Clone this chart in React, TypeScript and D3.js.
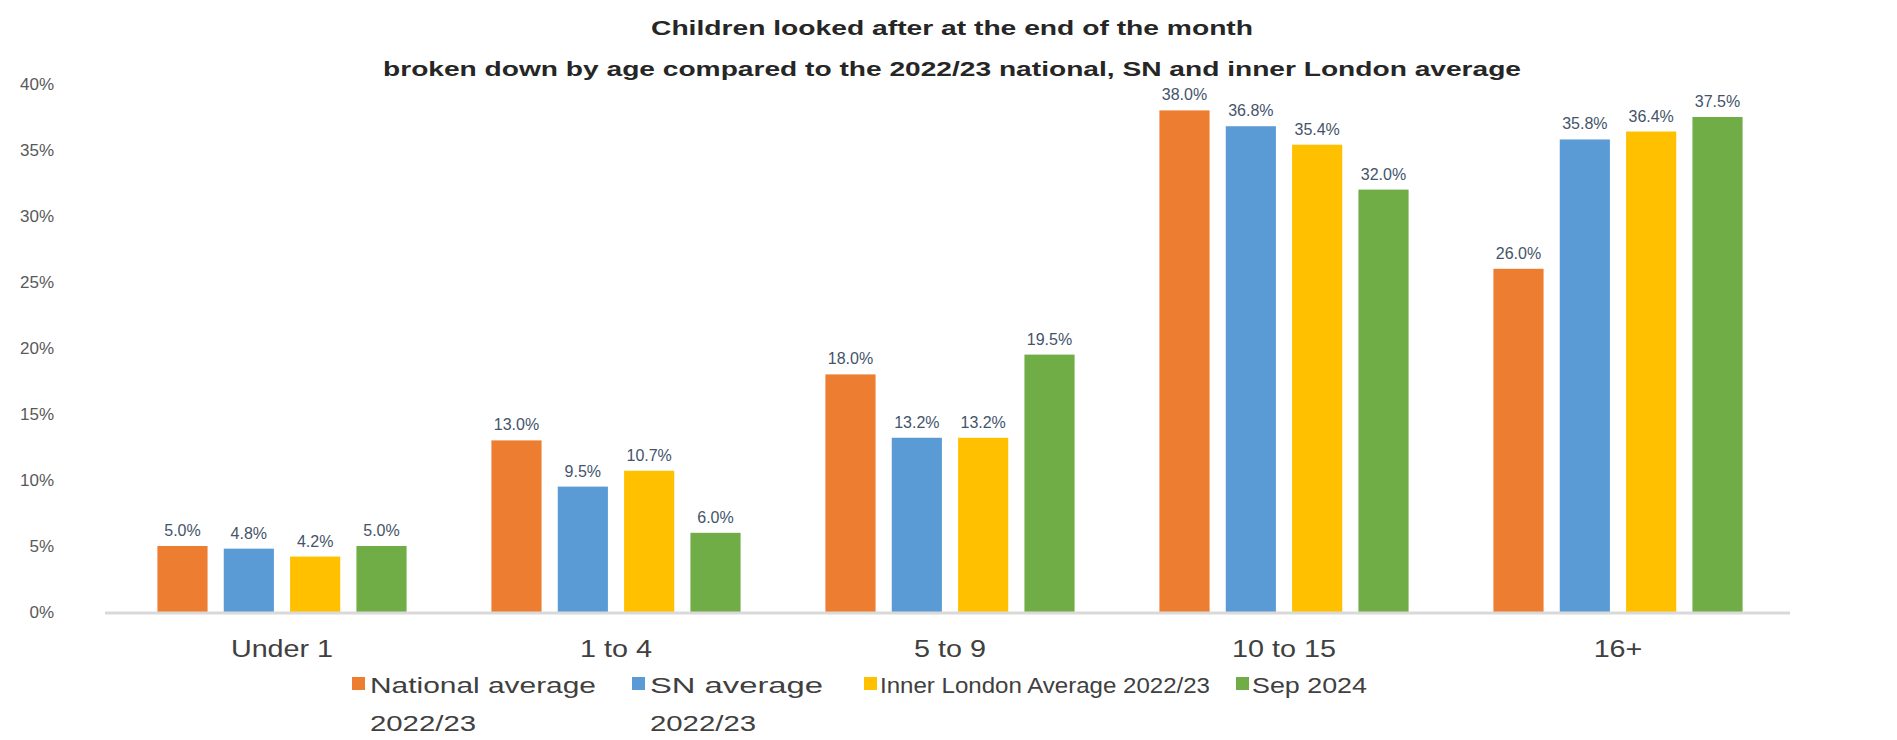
import React from "react";
import * as d3 from "d3";

const categories = ["Under 1", "1 to 4", "5 to 9", "10 to 15", "16+"];
const seriesNames = ["National average 2022/23", "SN average 2022/23", "Inner London Average 2022/23", "Sep 2024"];
const nationalAvg = [5.0, 13.0, 18.0, 38.0, 26.0];
const snAvg = [4.8, 9.5, 13.2, 36.8, 35.8];
const innerLondonAvg = [4.2, 10.7, 13.2, 35.4, 36.4];
const sep2024 = [5.0, 6.0, 19.5, 32.0, 37.5];
const yTicks = [0, 5, 10, 15, 20, 25, 30, 35, 40];
const titleLines = [
  "Children looked after at the end of the month",
  "broken down by age compared to the 2022/23 national, SN and inner London average",
];
const legendLines = [
  ["National average", "2022/23"],
  ["SN average", "2022/23"],
  ["Inner London Average 2022/23"],
  ["Sep 2024"],
];

const colors = ["#ED7D31", "#5B9BD5", "#FFC000", "#70AD47"];
const allSeries = [nationalAvg, snAvg, innerLondonAvg, sep2024];

const W = 1897;
const H = 740;
const FONT = "'Liberation Sans', Arial, sans-serif";

export default function App() {
  const x0 = d3.scaleBand<string>().domain(categories).range([115, 1785]).paddingInner(0.254).paddingOuter(0.127);
  const x1 = d3.scaleBand<number>().domain([0, 1, 2, 3]).range([0, x0.bandwidth()]).paddingInner(0.244).paddingOuter(0);
  const y = d3.scaleLinear().domain([0, 40]).range([612, 84]);

  const legendItems = [
    { sq: 352, tx: 370, w: [226, 106] },
    { sq: 632, tx: 650, w: [173, 106] },
    { sq: 864, tx: 880, w: [330] },
    { sq: 1236, tx: 1252, w: [115] },
  ];

  return (
    <div style={{ position: "absolute", left: 0, top: 0 }}>
      <svg width={W} height={H} style={{ display: "block", background: "#fff" }} fontFamily={FONT}>
        {/* title */}
        <text x={952} y={35} textAnchor="middle" fontWeight="bold" fontSize={21} fill="#262626"
          textLength={602} lengthAdjust="spacingAndGlyphs">{titleLines[0]}</text>
        <text x={952} y={76} textAnchor="middle" fontWeight="bold" fontSize={21} fill="#262626"
          textLength={1138} lengthAdjust="spacingAndGlyphs">{titleLines[1]}</text>

        {/* y tick labels */}
        {yTicks.map((t) => (
          <text key={t} x={54} y={y(t) + 6} textAnchor="end" fontSize={17} fill="#595959">{t}%</text>
        ))}

        {/* bars */}
        {categories.map((c, ci) => (
          <g key={c} transform={`translate(${x0(c)},0)`}>
            {allSeries.map((s, si) => (
              <g key={si}>
                <rect x={x1(si)} y={y(s[ci])} width={x1.bandwidth()} height={y(0) - y(s[ci])} fill={colors[si]} />
                <text x={(x1(si) as number) + x1.bandwidth() / 2} y={y(s[ci]) - 10} textAnchor="middle"
                  fontSize={16} fill="#44546A">{s[ci].toFixed(1)}%</text>
              </g>
            ))}
          </g>
        ))}

        {/* axis line */}
        <line x1={105} x2={1790} y1={y(0) + 1} y2={y(0) + 1} stroke="#D9D9D9" strokeWidth={3} />

        {/* category labels */}
        {categories.map((c) => (
          <g key={c} transform={`translate(${(x0(c) as number) + x0.bandwidth() / 2},657) scale(1.25,1)`}>
            <text x={0} y={0} textAnchor="middle" fontSize={23} fill="#404040">{c}</text>
          </g>
        ))}

        {/* legend */}
        {legendItems.map((it, i) => (
          <g key={i}>
            <rect x={it.sq} y={677} width={13} height={13} fill={colors[i]} />
            {legendLines[i].map((ln, li) => (
              <text key={li} x={it.tx} y={693 + li * 38} fontSize={22} fill="#404040"
                textLength={it.w[li]} lengthAdjust="spacingAndGlyphs">{ln}</text>
            ))}
          </g>
        ))}
      </svg>
    </div>
  );
}
